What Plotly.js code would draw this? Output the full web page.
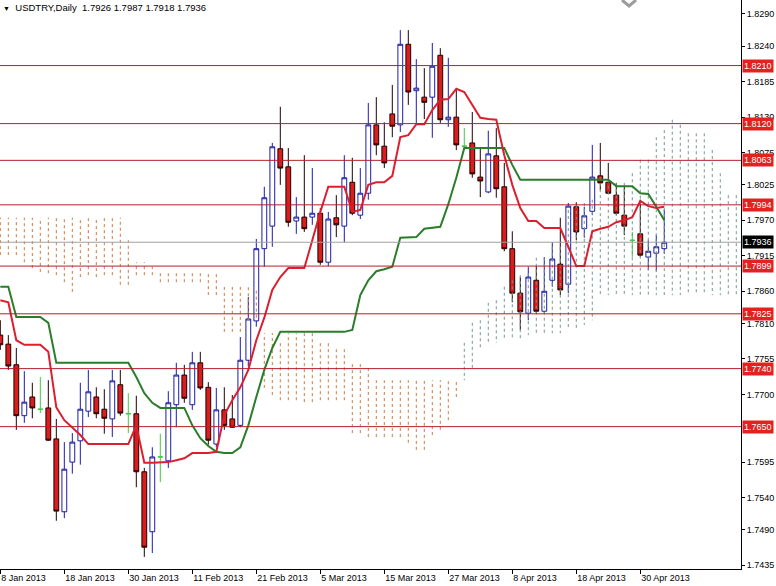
<!DOCTYPE html>
<html><head><meta charset="utf-8">
<script src="https://cdn.plot.ly/plotly-3.0.1.min.js"></script>
<style>html,body{margin:0;padding:0;background:#fff;}#chart{width:776px;height:586px;}</style>
</head><body><div id="chart"></div>
<script>
const symbol = 'USDTRY';
const timeframe = 'Daily';

const opens = [
1.7792,1.7778,1.7746,1.7667,1.7696,1.7677,1.7679,1.7631,1.7518,1.7595,
1.7628,1.7674,1.7696,1.7677,1.7662,1.7715,1.7670,1.7670,1.7580,1.7487,
1.7603,1.7597,1.7684,1.7730,1.7684,1.7749,1.7711,1.7623,1.7676,1.7662,
1.7652,1.7753,1.7814,1.7926,1.7961,1.8081,1.8053,1.7969,1.7975,1.7975,
1.7981,1.7905,1.7974,1.7961,1.8029,1.7978,1.8012,1.8118,1.8085,1.8135,
1.8118,1.8243,1.8171,1.8161,1.8161,1.8226,1.8126,1.8130,1.8085,1.8090,
1.8037,1.8014,1.8070,1.8022,1.7926,1.7857,1.7826,1.7877,1.7829,1.7877,
1.7902,1.7871,1.7991,1.7957,1.7984,1.8039,1.8029,1.8009,1.7978,1.7939,
1.7949,1.7913,1.7919,1.7926];
const highs = [
1.7815,1.7792,1.7772,1.7736,1.7718,1.7727,1.7722,1.7662,1.7626,1.7640,
1.7718,1.7738,1.7711,1.7708,1.7738,1.7738,1.7702,1.7698,1.7586,1.7618,
1.7639,1.7705,1.7749,1.7746,1.7766,1.7766,1.7719,1.7710,1.7711,1.7699,
1.7789,1.7851,1.7941,1.8022,1.8090,1.8146,1.8082,1.8006,1.8071,1.8051,
1.7989,1.7983,1.8009,1.8071,1.8067,1.8051,1.8152,1.8161,1.8122,1.8180,
1.8265,1.8265,1.8220,1.8206,1.8245,1.8237,1.8222,1.8172,1.8113,1.8138,
1.8082,1.8109,1.8113,1.8059,1.7953,1.7882,1.7898,1.7899,1.7913,1.7936,
1.7974,1.7997,1.7998,1.7991,1.8087,1.8090,1.8059,1.8028,1.8022,1.7952,
1.8002,1.7939,1.7947,1.7987];
const lows = [
1.7769,1.7738,1.7645,1.7656,1.7663,1.7671,1.7628,1.7504,1.7508,1.7577,
1.7591,1.7665,1.7663,1.7639,1.7634,1.7667,1.7640,1.7556,1.7448,1.7454,
1.7564,1.7586,1.7649,1.7687,1.7676,1.7707,1.7622,1.7618,1.7645,1.7648,
1.7649,1.7743,1.7805,1.7898,1.7929,1.8025,1.7960,1.7949,1.7952,1.7963,
1.7901,1.7899,1.7944,1.7936,1.7978,1.7972,1.8002,1.8071,1.8051,1.8099,
1.8107,1.8149,1.8121,1.8127,1.8098,1.8121,1.8115,1.8079,1.8079,1.8036,
1.8006,1.8012,1.8005,1.7922,1.7843,1.7800,1.7815,1.7826,1.7826,1.7867,
1.7854,1.7857,1.7939,1.7943,1.7978,1.8017,1.8011,1.7978,1.7947,1.7913,
1.7913,1.7893,1.7891,1.7918];
const closes = [
1.7777,1.7744,1.7667,1.7688,1.7679,1.7677,1.7629,1.7519,1.7584,1.7626,
1.7677,1.7704,1.7670,1.7663,1.7721,1.7671,1.7670,1.7580,1.7463,1.7603,
1.7603,1.7687,1.7730,1.7694,1.7749,1.7710,1.7629,1.7676,1.7652,1.7649,
1.7753,1.7817,1.7926,1.8005,1.8084,1.8051,1.7967,1.7975,1.7957,1.7981,
1.7905,1.7972,1.7963,1.8036,1.7981,1.8012,1.8118,1.8087,1.8059,1.8116,
1.8243,1.8169,1.8175,1.8153,1.8209,1.8126,1.8130,1.8087,1.8085,1.8042,
1.8031,1.8073,1.8019,1.7926,1.7857,1.7828,1.7882,1.7829,1.7860,1.7910,
1.7862,1.7992,1.7952,1.7977,1.8037,1.8028,1.8012,1.7981,1.7961,1.7939,
1.7916,1.7922,1.7929,1.7936];

const tenkan = [
1.7846,1.7843,1.7784,1.7777,1.7777,1.7777,1.7766,1.7680,1.7660,1.7649,
1.7637,1.7623,1.7623,1.7623,1.7623,1.7623,1.7623,1.7652,1.7594,1.7594,
1.7594,1.7595,1.7598,1.7601,1.7609,1.7609,1.7609,1.7611,1.7668,1.7691,
1.7711,1.7738,1.7784,1.7819,1.7862,1.7882,1.7896,1.7896,1.7896,1.7939,
1.7983,1.8022,1.8022,1.8022,1.7983,1.7986,1.8025,1.8029,1.8029,1.8039,
1.8099,1.8102,1.8119,1.8119,1.8141,1.8157,1.8158,1.8174,1.8169,1.8149,
1.8129,1.8127,1.8126,1.8071,1.8025,1.7989,1.7969,1.7969,1.7958,1.7958,
1.7958,1.7929,1.7899,1.7899,1.7953,1.7957,1.7960,1.7967,1.7970,1.7975,
1.8000,1.7992,1.7989,1.7991];
const kijun = [
1.7867,1.7867,1.7820,1.7820,1.7820,1.7820,1.7811,1.7749,1.7749,1.7749,
1.7749,1.7749,1.7749,1.7749,1.7749,1.7749,1.7749,1.7727,1.7702,1.7687,
1.7679,1.7679,1.7679,1.7679,1.7652,1.7632,1.7620,1.7611,1.7609,1.7609,
1.7618,1.7652,1.7696,1.7738,1.7772,1.7797,1.7797,1.7797,1.7797,1.7797,
1.7797,1.7797,1.7797,1.7797,1.7800,1.7854,1.7877,1.7891,1.7894,1.7898,
1.7943,1.7943,1.7944,1.7957,1.7958,1.7960,1.7995,1.8036,1.8082,1.8082,
1.8082,1.8082,1.8082,1.8082,1.8056,1.8033,1.8033,1.8033,1.8033,1.8033,
1.8033,1.8033,1.8033,1.8033,1.8033,1.8033,1.8033,1.8023,1.8023,1.8023,
1.8012,1.8011,1.7991,1.7970];
const senkouA = [
1.7916,1.7916,1.7916,1.7905,1.7896,1.7890,1.7888,1.7885,1.7874,1.7859,
1.7882,1.7885,1.7882,1.7885,1.7885,1.7870,1.7870,1.7885,1.7885,1.7885,
1.7874,1.7874,1.7874,1.7874,1.7874,1.7874,1.7854,1.7854,1.7797,1.7797,
1.7797,1.7815,1.7819,1.7710,1.7699,1.7691,1.7691,1.7691,1.7688,1.7688,
1.7691,1.7691,1.7691,1.7691,1.7640,1.7640,1.7634,1.7634,1.7634,1.7634,
1.7634,1.7625,1.7614,1.7614,1.7637,1.7645,1.7660,1.7696,1.7780,1.7811,
1.7815,1.7842,1.7846,1.7867,1.7877,1.7885,1.7888,1.7912,1.7912,1.7929,
1.7929,1.7986,1.7994,1.7997,1.8002,1.8037,1.8033,1.8028,1.8028,1.8043,
1.8064,1.8064,1.8099,1.8110,1.8126,1.8118,1.8105,1.8105,1.8105,1.8079,
1.8043,1.8009,1.8009];
const senkouB = [
1.7974,1.7974,1.7974,1.7974,1.7974,1.7974,1.7974,1.7974,1.7974,1.7974,
1.7974,1.7974,1.7974,1.7974,1.7974,1.7974,1.7939,1.7905,1.7905,1.7898,
1.7888,1.7888,1.7888,1.7888,1.7888,1.7888,1.7888,1.7888,1.7870,1.7870,
1.7870,1.7870,1.7862,1.7795,1.7795,1.7784,1.7795,1.7795,1.7795,1.7795,
1.7784,1.7784,1.7774,1.7774,1.7750,1.7750,1.7743,1.7722,1.7722,1.7722,
1.7722,1.7722,1.7722,1.7722,1.7722,1.7722,1.7722,1.7722,1.7722,1.7738,
1.7769,1.7777,1.7780,1.7784,1.7787,1.7787,1.7792,1.7792,1.7792,1.7795,
1.7795,1.7800,1.7800,1.7808,1.7815,1.7854,1.7854,1.7854,1.7854,1.7854,
1.7854,1.7854,1.7854,1.7854,1.7854,1.7854,1.7854,1.7854,1.7854,1.7854,
1.7854,1.7854,1.7854];

const tickBars = [0, 8, 16, 24, 32, 40, 48, 56, 64, 72, 80];
const tickLabels = ['8 Jan 2013','18 Jan 2013','30 Jan 2013','11 Feb 2013','21 Feb 2013',
  '5 Mar 2013','15 Mar 2013','27 Mar 2013','8 Apr 2013','18 Apr 2013','30 Apr 2013'];
const priceTicks = [1.8290,1.8240,1.8185,1.8130,1.8075,1.8025,1.7970,1.7915,1.7860,
  1.7810,1.7755,1.7700,1.7595,1.7540,1.7490,1.7435];
const levels = [1.8210, 1.8120, 1.8063, 1.7994, 1.7899, 1.7825, 1.7740, 1.7650];

const FONT = 'Liberation Sans, Arial, sans-serif';
const idx = opens.map((_, i) => i);
const isDoji = i => opens[i] === closes[i];
const bodyIdx = idx.filter(i => !isDoji(i));
const dojiIdx = idx.filter(isDoji);
const pick = (arr, ids) => ids.map(i => arr[i]);

const up = {x: [], y: []}, dn = {x: [], y: []};
senkouA.forEach((a, i) => {
  const t = a >= senkouB[i] ? up : dn;
  t.x.push(i, i, null); t.y.push(a, senkouB[i], null);
});

const last = opens.length - 1;
const lastClose = closes[last];

const traces = [
  {type: 'scatter', mode: 'lines', x: dn.x, y: dn.y, hoverinfo: 'skip',
   line: {color: '#cf7a3c', width: 1, dash: '3px,3px'}},
  {type: 'scatter', mode: 'lines', x: up.x, y: up.y, hoverinfo: 'skip',
   line: {color: '#6f9a8c', width: 1, dash: '3px,3px'}},
  {type: 'scatter', mode: 'lines', x: idx, y: kijun,
   line: {color: '#2a7d2a', width: 2}},
  {type: 'scatter', mode: 'lines', x: idx, y: tenkan,
   line: {color: '#dc1f2e', width: 2}},
  {type: 'candlestick', x: bodyIdx, open: pick(opens, bodyIdx), high: pick(highs, bodyIdx),
   low: pick(lows, bodyIdx), close: pick(closes, bodyIdx),
   increasing: {line: {color: '#1c1ca8', width: 1}, fillcolor: '#ffffff'},
   decreasing: {line: {color: '#200000', width: 1}, fillcolor: '#d81e1e'}},
  {type: 'candlestick', x: dojiIdx, open: pick(opens, dojiIdx), high: pick(highs, dojiIdx),
   low: pick(lows, dojiIdx), close: pick(closes, dojiIdx),
   increasing: {line: {color: '#44c844', width: 1}, fillcolor: '#44c844'},
   decreasing: {line: {color: '#44c844', width: 1}, fillcolor: '#44c844'}}
];

const shapes = levels.map(v => ({type: 'line', xref: 'paper', x0: 0, x1: 1, yref: 'y', y0: v, y1: v,
  line: {color: '#b3202a', width: 1}, layer: 'above'}));
shapes.push({type: 'line', xref: 'paper', x0: 0, x1: 1, yref: 'y', y0: lastClose, y1: lastClose,
  line: {color: '#a0a0a0', width: 1}, layer: 'above'});
// small grey chevron of the terminal window (top right)
shapes.push({type: 'path', xref: 'paper', yref: 'paper',
  path: 'M 0.8394,1 L 0.8489,0.9895 L 0.8583,1', line: {color: '#9c9c9c', width: 3}, layer: 'above'});

const annotations = levels.map(v => ({xref: 'paper', x: 1, xanchor: 'left', xshift: 1,
  yref: 'y', y: v, yanchor: 'middle', text: v.toFixed(4), showarrow: false,
  bgcolor: '#e3221f', borderpad: 1, font: {family: FONT, size: 9, color: '#ffffff'}}));
annotations.push({xref: 'paper', x: 1, xanchor: 'left', xshift: 1,
  yref: 'y', y: lastClose, yanchor: 'middle', text: lastClose.toFixed(4), showarrow: false,
  bgcolor: '#000000', borderpad: 1, font: {family: FONT, size: 9, color: '#ffffff'}});

const titleText = '<span style="font-size:7px">▼</span>  ' + symbol + ',' + timeframe + '  ' +
  [opens[last], highs[last], lows[last], closes[last]].map(v => v.toFixed(4)).join(' ');

const layout = {
  width: 776, height: 586,
  margin: {l: 0, r: 35, t: 0, b: 17, pad: 0},
  paper_bgcolor: '#ffffff', plot_bgcolor: '#ffffff',
  showlegend: false,
  boxgap: 0.4, boxgroupgap: 0,
  title: {text: titleText, xref: 'container', yref: 'container', x: 0.004, xanchor: 'left',
    y: 1 - 8 / 586, yanchor: 'middle', font: {family: FONT, size: 9.5, color: '#000000'}},
  xaxis: {type: 'linear', range: [-0.04, 92.59], rangeslider: {visible: false},
    tickvals: tickBars, ticktext: tickLabels, ticks: 'outside', ticklen: 4, tickcolor: '#000',
    ticklabelposition: 'outside right',
    showline: true, linecolor: '#000', linewidth: 1, showgrid: false, zeroline: false,
    tickfont: {family: FONT, size: 9, color: '#000'}, fixedrange: true},
  yaxis: {type: 'linear', side: 'right', range: [1.74292, 1.83117],
    tickvals: priceTicks, ticktext: priceTicks.map(v => v.toFixed(4)),
    ticks: 'outside', ticklen: 3, tickcolor: '#000',
    showline: true, linecolor: '#000', linewidth: 1, showgrid: false, zeroline: false,
    tickfont: {family: FONT, size: 9, color: '#000'}, fixedrange: true},
  shapes: shapes,
  annotations: annotations
};

Plotly.newPlot('chart', traces, layout, {staticPlot: true, displayModeBar: false});
</script></body></html>
